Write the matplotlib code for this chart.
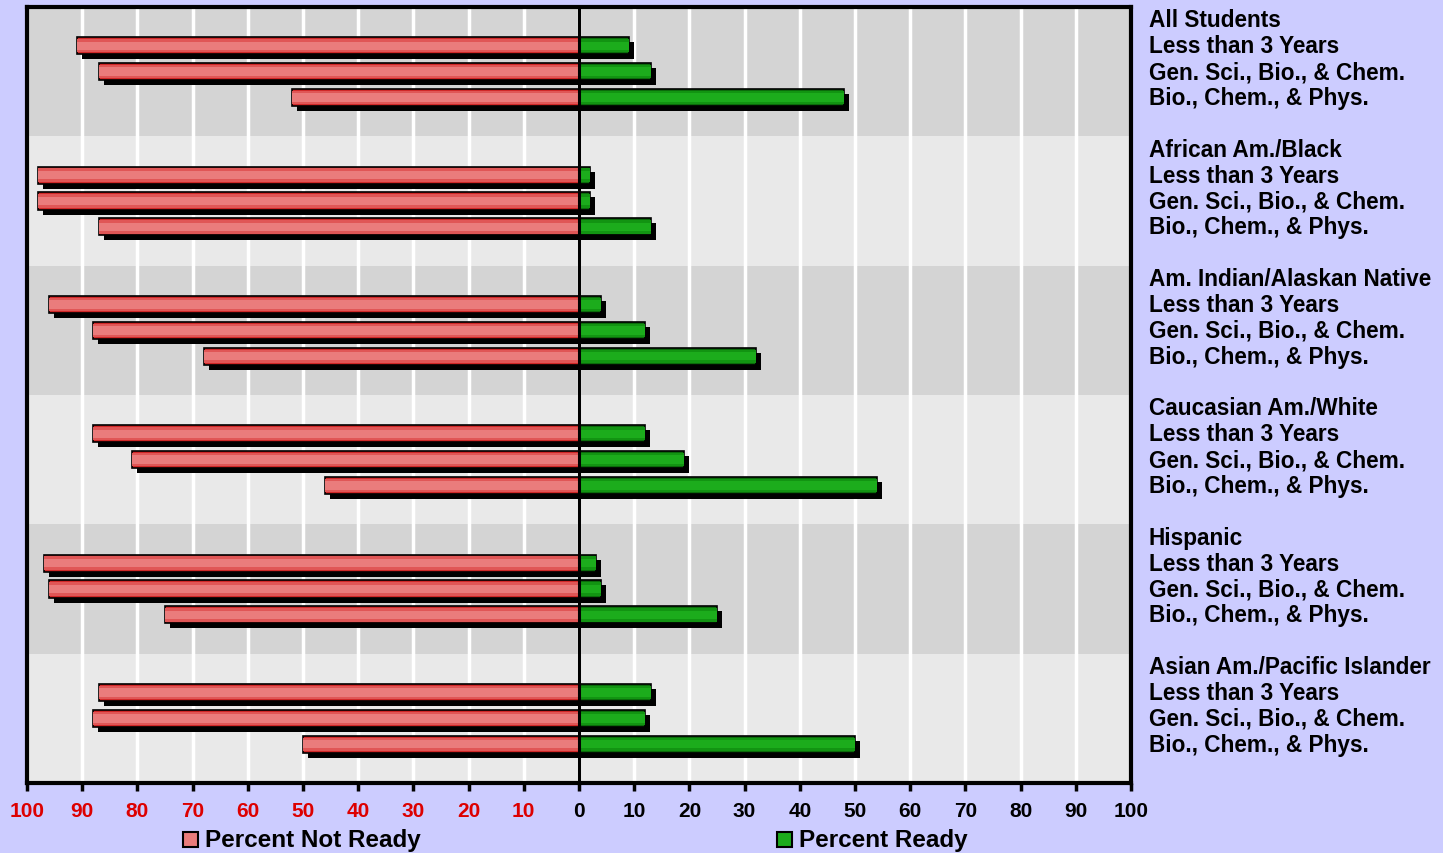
import matplotlib
matplotlib.use("Agg")
import matplotlib.pyplot as plt
import matplotlib.transforms as mtransforms
from matplotlib.patches import Rectangle

plt.rcParams["font.family"] = ["Liberation Sans", "DejaVu Sans"]
plt.rcParams["font.weight"] = "bold"

groups = [
    "All Students",
    "African Am./Black",
    "Am. Indian/Alaskan Native",
    "Caucasian Am./White",
    "Hispanic",
    "Asian Am./Pacific Islander",
]
categories = ["Less than 3 Years", "Gen. Sci., Bio., & Chem.", "Bio., Chem., & Phys."]

# percent of students per group / course pattern
not_ready = [91, 87, 52, 98, 98, 87, 96, 88, 68, 88, 81, 46, 97, 96, 75, 87, 88, 50]
ready = [9, 13, 48, 2, 2, 13, 4, 12, 32, 12, 19, 54, 3, 4, 25, 13, 12, 50]

ticks = list(range(-100, 101, 10))

BG = "#CCCCFF"
BAND_DARK = "#D4D4D4"
BAND_LIGHT = "#E9E9E9"
RED_SHADES = ["#D02828", "#E05656", "#EA7C7C"]
GREEN_SHADES = ["#0B6B0B", "#129412", "#1CAC1C"]

W, H = 1443, 854
fig = plt.figure(figsize=(W / 100, H / 100), dpi=100, facecolor=BG)
ax = fig.add_axes([27 / W, 1 - 784 / H, (1131 - 27) / W, (784 - 8) / H])

rows_per_group = len(categories) + 2
n_rows = rows_per_group * len(groups)
ax.set_xlim(-100, 100)
ax.set_ylim(n_rows - 0.5, -0.5)

# alternating background bands, one per group
for g in range(len(groups)):
    ax.axhspan(g * rows_per_group - 0.5, (g + 1) * rows_per_group - 0.5,
               color=BAND_DARK if g % 2 == 0 else BAND_LIGHT, zorder=0, lw=0)
for t in ticks[1:-1]:
    ax.axvline(t, color="white", lw=2.5, zorder=1)

ypos = []
for g in range(len(groups)):
    for c in range(len(categories)):
        ypos.append(g * rows_per_group + c + 1)

bar_h = 0.66
shadow = ax.transData + mtransforms.ScaledTranslation(5 / 100, -5 / 100, fig.dpi_scale_trans)
neg = [-v for v in not_ready]


def shaded_bars(values, shades):
    ax.barh(ypos, values, height=bar_h, color="black", transform=shadow, zorder=2)
    ax.barh(ypos, values, height=bar_h, color=shades[0], edgecolor="black", lw=1.2, zorder=3)
    ax.barh(ypos, values, height=bar_h * 0.78, color=shades[1], lw=0, zorder=4)
    ax.barh(ypos, values, height=bar_h * 0.5, color=shades[2], lw=0, zorder=5)


shaded_bars(neg, RED_SHADES)
shaded_bars(ready, GREEN_SHADES)

ax.axvline(0, color="black", lw=2.2, zorder=6)

for s in ax.spines.values():
    s.set_linewidth(3)
    s.set_zorder(7)

ax.set_yticks([])
ax.set_xticks(ticks)
ax.set_xticklabels([str(abs(t)) for t in ticks])
ax.tick_params(axis="x", direction="out", length=6, width=2.5, pad=7, labelsize=15)
for t, lab in zip(ticks, ax.get_xticklabels()):
    lab.set_fontweight("bold")
    lab.set_color("#DD0000" if t < 0 else "black")

# group and course labels to the right of the plot
ytr = ax.get_yaxis_transform()
xlab = (1149 - 27) / (1131 - 27)
for g, name in enumerate(groups):
    base = g * rows_per_group
    ax.text(xlab, base, name, transform=ytr, ha="left", va="center",
            fontsize=16.3, fontweight="bold", clip_on=False)
    for c, cat in enumerate(categories):
        ax.text(xlab, base + c + 1, cat, transform=ytr, ha="left", va="center",
                fontsize=16.3, fontweight="bold", clip_on=False)

# legend entries below the axis
for x0, face, label in [(183, RED_SHADES[2], "Percent Not Ready"), (777, GREEN_SHADES[2], "Percent Ready")]:
    fig.patches.append(Rectangle((x0 / W, 1 - 848 / H), 15 / W, 15 / H, transform=fig.transFigure,
                                 facecolor=face, edgecolor="black", lw=1.5))
    fig.text((x0 + 22) / W, 1 - 841 / H, label, ha="left", va="center",
             fontsize=17.5, fontweight="bold")

fig.savefig("out.png", dpi=100, facecolor=BG)
